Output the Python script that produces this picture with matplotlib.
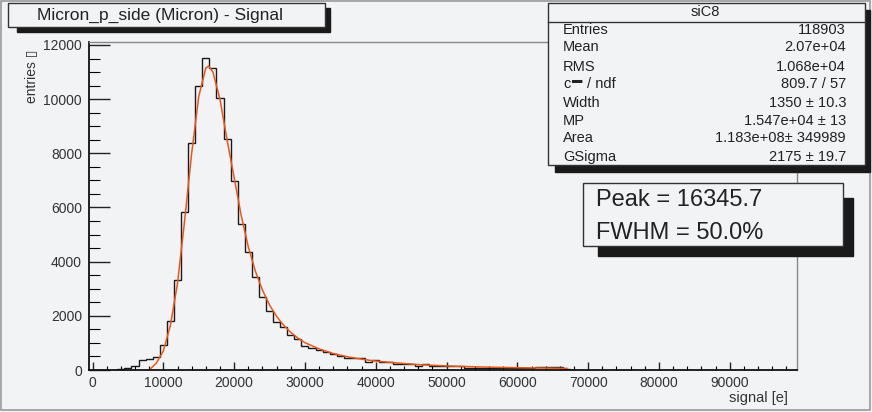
import numpy as np
import matplotlib.pyplot as plt
from matplotlib.patches import Rectangle
from matplotlib.ticker import MultipleLocator

# histogram: 1000 e wide bins, centred on 4000 ... 67000
bin_centers = np.arange(4000, 68000, 1000)
counts = [20, 60, 150, 380, 420, 470, 920, 1810, 3320, 5850, 8380, 10470,
          11530, 11150, 10030, 8530, 6960, 5400, 4350, 3450, 2700, 2160,
          1790, 1570, 1280, 1130, 900, 800, 740, 650, 590, 520, 460, 455,
          450, 310, 380, 310, 310, 230, 230, 230, 160, 230, 160, 160, 160,
          160, 160, 74, 74, 74, 74, 74, 74, 74, 74, 74, 74, 100, 100, 100,
          100, 40]

# fitted Landau x Gauss curve
fit_x = [8000, 9000, 10000, 11000, 12000, 13000, 14000, 15000, 16000, 16400,
         17000, 18000, 19000, 20000, 21000, 22000, 23000, 24000, 25000, 26000,
         27000, 28000, 29000, 30000, 32000, 34000, 36000, 38000, 40000, 43000,
         46000, 50000, 55000, 60000, 67000]
fit_y = [0, 250, 700, 1650, 3200, 5500, 8000, 10100, 11150, 11220,
         11000, 10000, 8500, 7100, 5700, 4550, 3650, 2950, 2400, 1980,
         1650, 1390, 1180, 1010, 780, 610, 490, 400, 330, 260,
         200, 150, 110, 85, 60]

stats_names = ['Entries', 'Mean', 'RMS', 'c', 'Width', 'MP', 'Area', 'GSigma']
stats_values = ['118903', '2.07e+04', '1.068e+04', '809.7 / 57', '1350 ± 10.3',
                '1.547e+04 ± 13', '1.183e+08± 349989', '2175 ± 19.7']
stats_rows_y = [30, 47, 67, 84, 103, 121, 138, 157]

W, H = 872, 412
bg = '#f2f3f5'
txt = '#222222'
plt.rcParams['font.family'] = ['Liberation Sans', 'DejaVu Sans']

fig = plt.figure(figsize=(W / 100, H / 100), dpi=100, facecolor=bg)


def fx(x):
    return x / W


def fy(y):
    return 1 - y / H


def box(x0, y0, x1, y1, fc=bg, ec='#222222', lw=1.0, z=5):
    fig.patches.append(Rectangle((fx(x0), fy(y1)), fx(x1) - fx(x0), fy(y0) - fy(y1),
                                 transform=fig.transFigure, fc=fc, ec=ec, lw=lw, zorder=z))


ax = fig.add_axes([fx(89), fy(370), fx(797) - fx(89), fy(42) - fy(370)])
ax.set_facecolor(bg)

edges = np.append(bin_centers - 500, bin_centers[-1] + 500)
ax.stairs(counts, edges, color='#1a1a1a', lw=1.0, baseline=0)
ax.plot(fit_x, fit_y, color='#e8581c', lw=1.1)

ax.set_xlim(-500, 99500)
ax.set_ylim(0, 12110)
ax.xaxis.set_major_locator(MultipleLocator(10000))
ax.xaxis.set_minor_locator(MultipleLocator(2000))
ax.yaxis.set_major_locator(MultipleLocator(2000))
ax.yaxis.set_minor_locator(MultipleLocator(500))
ax.tick_params(axis='x', which='major', direction='in', length=6, width=1,
               labelsize=10, pad=4, colors='#222222', labelcolor='#333333')
ax.tick_params(axis='x', which='minor', direction='in', length=3, width=0.8)
ax.tick_params(axis='y', which='major', direction='in', length=15, width=1,
               labelsize=10, pad=5, colors='#222222', labelcolor='#333333')
ax.tick_params(axis='y', which='minor', direction='in', length=8, width=0.8)
for s in ['left', 'bottom']:
    ax.spines[s].set_color('#111111')
    ax.spines[s].set_linewidth(1.3)
for s in ['top', 'right']:
    ax.spines[s].set_color('#888888')
    ax.spines[s].set_linewidth(1.0)

fig.text(fx(788), fy(398), 'signal [e]', ha='right', va='center', fontsize=10.5, color='#333333')
fig.text(fx(31), fy(50), 'entries ▯', ha='center', va='top', rotation=90,
         fontsize=10, color='#333333')

# title box
box(17, 8, 330, 32, fc='#1a1a1a', ec='#1a1a1a', z=4)
box(8, 3, 325, 27, ec='#333333')
fig.text(fx(160), fy(15), 'Micron_p_side (Micron) - Signal', ha='center', va='center',
         fontsize=12.5, color=txt, zorder=6)

# stats box
box(555, 10, 870, 172, fc='#1a1a1a', ec='#1a1a1a', z=4)
box(548, 3, 865, 165, ec='#333333')
fig.lines.append(plt.Line2D([fx(548), fx(865)], [fy(22), fy(22)], transform=fig.transFigure,
                            color='#333333', lw=1.0, zorder=6))
fig.text(fx(705), fy(12.5), 'siC8', ha='center', va='center', fontsize=10.5, color=txt, zorder=6)
for name, val, yy in zip(stats_names, stats_values, stats_rows_y):
    fig.text(fx(563), fy(yy), name, ha='left', va='center', fontsize=10.5, color=txt, zorder=6)
    fig.text(fx(846), fy(yy), val, ha='right', va='center', fontsize=10.5, color=txt, zorder=6)
# the broken chi-square glyph: "c" followed by a raised bar, then "/ ndf"
fig.text(fx(572), fy(80), '▬', ha='left', va='center', fontsize=7.5, color=txt, zorder=6)
fig.text(fx(587), fy(84), '/ ndf', ha='left', va='center', fontsize=10.5, color=txt, zorder=6)

# peak box
box(598, 198, 853, 256, fc='#1a1a1a', ec='#1a1a1a', z=4)
box(583, 183, 843, 246, ec='#333333')
fig.text(fx(596), fy(200), 'Peak = 16345.7', ha='left', va='center', fontsize=17,
         color=txt, zorder=6)
fig.text(fx(596), fy(233), 'FWHM = 50.0%', ha='left', va='center', fontsize=17,
         color=txt, zorder=6)

# canvas frame
box(0.5, 0.5, 870, 410, fc='none', ec='#9a9a9a', lw=1.2, z=1)

fig.savefig('out.png', dpi=100, facecolor=bg)
